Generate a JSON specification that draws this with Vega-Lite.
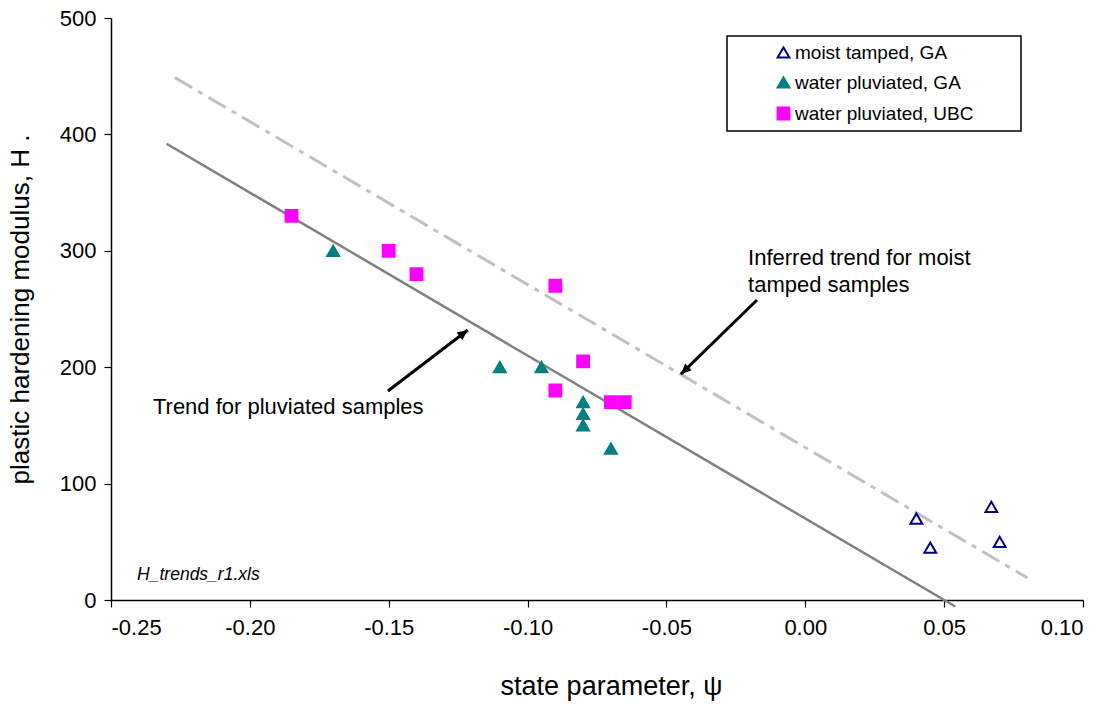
{
  "$schema": "https://vega.github.io/schema/vega-lite/v6.json",
  "width": 972,
  "height": 582,
  "autosize": {"type": "none"},
  "padding": {"left": 111, "top": 18, "right": 29, "bottom": 105},
  "background": "#ffffff",
  "config": {
    "view": {"stroke": null},
    "font": "Liberation Sans",
    "axis": {
      "grid": false,
      "domainColor": "#000000",
      "domainWidth": 1.5,
      "tickColor": "#000000",
      "tickWidth": 1.2,
      "tickSize": 7,
      "labelColor": "#000000",
      "labelFont": "Liberation Sans",
      "labelFontSize": 22,
      "titleFont": "Liberation Sans",
      "titleFontSize": 26,
      "titleFontWeight": "normal",
      "titleColor": "#000000"
    },
    "legend": {
      "labelFont": "Liberation Sans",
      "labelFontSize": 19,
      "labelColor": "#000000",
      "strokeColor": "#000000",
      "strokeWidth": 1.5,
      "fillColor": "#ffffff",
      "padding": 7,
      "rowPadding": 10,
      "symbolOffset": 40,
      "labelOffset": 2,
      "labelLimit": 0,
      "symbolSize": 140,
      "symbolStrokeWidth": 2,
      "titleOrient": "right",
      "titlePadding": 41,
      "titleFontSize": 2,
      "titleLimit": 0
    }
  },
  "datasets": {
    "samples": [
      {"series": "moist tamped, GA", "psi": 0.04, "H": 70},
      {"series": "moist tamped, GA", "psi": 0.045, "H": 45},
      {"series": "moist tamped, GA", "psi": 0.067, "H": 80},
      {"series": "moist tamped, GA", "psi": 0.07, "H": 50},
      {"series": "water pluviated, GA", "psi": -0.17, "H": 300},
      {"series": "water pluviated, GA", "psi": -0.11, "H": 200},
      {"series": "water pluviated, GA", "psi": -0.095, "H": 200},
      {"series": "water pluviated, GA", "psi": -0.08, "H": 170},
      {"series": "water pluviated, GA", "psi": -0.08, "H": 160},
      {"series": "water pluviated, GA", "psi": -0.08, "H": 150},
      {"series": "water pluviated, GA", "psi": -0.07, "H": 130},
      {"series": "water pluviated, UBC", "psi": -0.185, "H": 330},
      {"series": "water pluviated, UBC", "psi": -0.15, "H": 300},
      {"series": "water pluviated, UBC", "psi": -0.14, "H": 280},
      {"series": "water pluviated, UBC", "psi": -0.09, "H": 270},
      {"series": "water pluviated, UBC", "psi": -0.08, "H": 205},
      {"series": "water pluviated, UBC", "psi": -0.09, "H": 180},
      {"series": "water pluviated, UBC", "psi": -0.07, "H": 170},
      {"series": "water pluviated, UBC", "psi": -0.065, "H": 170}
    ],
    "trends": [
      {"trend": "pluviated", "psi": -0.23, "H": 392},
      {"trend": "pluviated", "psi": 0.054, "H": -5.6},
      {"trend": "moist", "psi": -0.227, "H": 448.8},
      {"trend": "moist", "psi": 0.08, "H": 19}
    ],
    "arrows": [
      {"arrow": "moist", "psi": -0.0448, "H": 194, "psi2": -0.0174, "H2": 257.7},
      {"arrow": "pluviated", "psi": -0.1215, "H": 232, "psi2": -0.1503, "H2": 179.6}
    ],
    "notes": [
      {"text": "Inferred trend for moist", "psi": -0.0206, "H": 287.8},
      {"text": "tamped samples", "psi": -0.0206, "H": 264.6},
      {"text": "Trend for pluviated samples", "psi": -0.2349, "H": 159.8}
    ],
    "files": [
      {"text": "H_trends_r1.xls", "psi": -0.2406, "H": 17.2}
    ]
  },
  "encoding": {
    "x": {
      "field": "psi",
      "type": "quantitative",
      "scale": {"domain": [-0.25, 0.1], "nice": false, "zero": false},
      "axis": {
        "title": "state parameter, ψ",
        "titleFontSize": 27,
        "titleX": 500,
        "titleAlign": "center",
        "values": [-0.25, -0.2, -0.15, -0.1, -0.05, 0, 0.05, 0.1],
        "labelExpr": "(datum.value < -1e-9 ? '-' : '') + format(abs(datum.value), '.2f')",
        "labelPadding": 10,
        "titlePadding": 35
      }
    },
    "y": {
      "field": "H",
      "type": "quantitative",
      "scale": {"domain": [0, 500], "nice": false, "zero": false},
      "axis": {
        "title": "plastic hardening modulus, H .",
        "values": [0, 100, 200, 300, 400, 500],
        "labelPadding": 8,
        "titlePadding": 26
      }
    }
  },
  "layer": [
    {
      "data": {"name": "trends"},
      "transform": [{"filter": "datum.trend === 'moist'"}],
      "mark": {"type": "line", "color": "#c0c0c0", "strokeWidth": 3, "strokeDash": [20, 7, 5, 7]},
      "encoding": {}
    },
    {
      "data": {"name": "trends"},
      "transform": [{"filter": "datum.trend === 'pluviated'"}],
      "mark": {"type": "line", "color": "#808080", "strokeWidth": 2.5},
      "encoding": {}
    },
    {
      "data": {"name": "samples"},
      "mark": {"type": "point", "filled": true, "opacity": 1, "strokeWidth": 2, "size": 140},
      "encoding": {
        "shape": {
          "field": "series",
          "type": "nominal",
          "scale": {"domain": ["moist tamped, GA", "water pluviated, GA", "water pluviated, UBC"], "range": ["triangle-up", "triangle-up", "square"]},
          "legend": {"title": " ", "orient": "none", "legendX": 616, "legendY": 18}
        },
        "fill": {
          "field": "series",
          "type": "nominal",
          "scale": {"domain": ["moist tamped, GA", "water pluviated, GA", "water pluviated, UBC"], "range": ["#ffffff", "#008080", "#ff00ff"]},
          "legend": {"title": " ", "orient": "none", "legendX": 616, "legendY": 18}
        },
        "stroke": {
          "field": "series",
          "type": "nominal",
          "scale": {"domain": ["moist tamped, GA", "water pluviated, GA", "water pluviated, UBC"], "range": ["#000080", "#008080", "#ff00ff"]},
          "legend": {"title": " ", "orient": "none", "legendX": 616, "legendY": 18}
        }
      }
    },
    {
      "data": {"name": "arrows"},
      "mark": {"type": "rule", "color": "#000000", "strokeWidth": 3},
      "encoding": {
        "x2": {"field": "psi2"},
        "y2": {"field": "H2"}
      }
    },
    {
      "data": {"name": "arrows"},
      "transform": [{"filter": "datum.arrow === 'moist'"}],
      "mark": {"type": "point", "shape": "M0,0L0.45,1L-0.45,1Z", "filled": true, "color": "#000000", "opacity": 1, "size": 440, "angle": 226},
      "encoding": {}
    },
    {
      "data": {"name": "arrows"},
      "transform": [{"filter": "datum.arrow === 'pluviated'"}],
      "mark": {"type": "point", "shape": "M0,0L0.45,1L-0.45,1Z", "filled": true, "color": "#000000", "opacity": 1, "size": 440, "angle": 53},
      "encoding": {}
    },
    {
      "data": {"name": "notes"},
      "mark": {"type": "text", "align": "left", "baseline": "alphabetic", "fontSize": 22, "font": "Liberation Sans", "color": "#000000"},
      "encoding": {"text": {"field": "text"}}
    },
    {
      "data": {"name": "files"},
      "mark": {"type": "text", "align": "left", "baseline": "alphabetic", "fontSize": 17.5, "fontStyle": "italic", "font": "Liberation Sans", "color": "#000000"},
      "encoding": {"text": {"field": "text"}}
    }
  ]
}
